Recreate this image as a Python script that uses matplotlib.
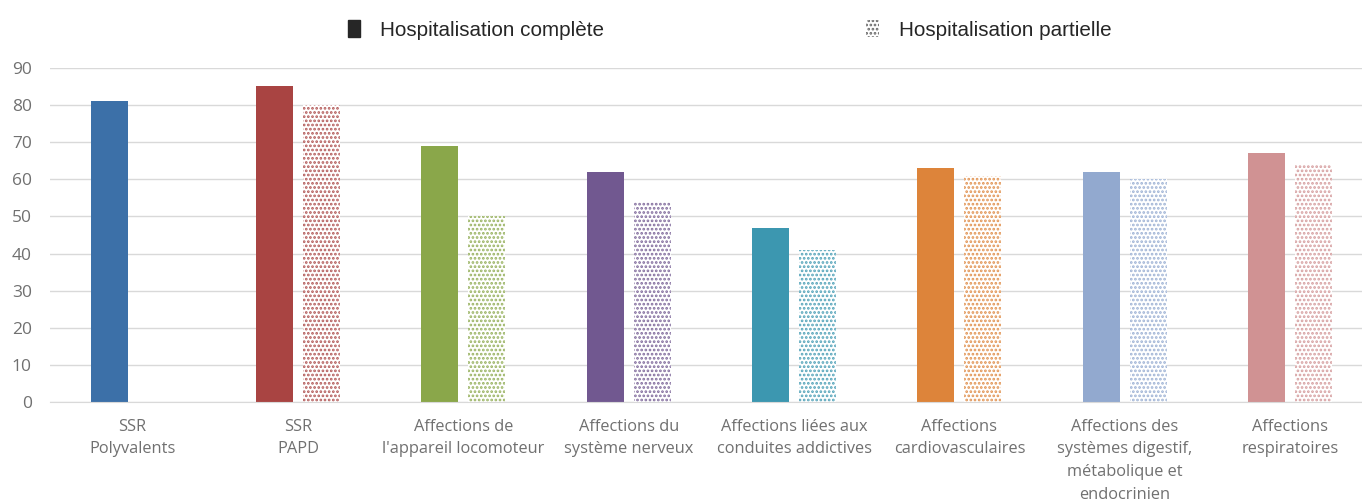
import numpy as np
import matplotlib
matplotlib.use('Agg')
from matplotlib import pyplot as plt
from matplotlib.patches import Patch
from matplotlib.colors import to_rgb

categories = ["SSR\nPolyvalents", "SSR\nPAPD", "Affections de\nl'appareil locomoteur",
              "Affections du\nsystème nerveux", "Affections liées aux\nconduites addictives",
              "Affections\ncardiovasculaires",
              "Affections des\nsystèmes digestif,\nmétabolique et\nendocrinien",
              "Affections\nrespiratoires"]
complete = [81, 85, 69, 62, 47, 63, 62, 67]
partielle = [0, 80, 50, 54, 41, 61, 60, 64]
colors = ['#3C70A8', '#A94442', '#8AA74A', '#715890', '#3C97B0', '#DD843A', '#92A9CF', '#D09293']
yticks = [0, 10, 20, 30, 40, 50, 60, 70, 80, 90]

def lighten(c, f):
    r, g, b = to_rgb(c)
    return (r + (1 - r) * f, g + (1 - g) * f, b + (1 - b) * f)

plt.rcParams['hatch.linewidth'] = 1.3

fig = plt.figure(figsize=(13.62, 4.99), dpi=100)
ax = fig.add_axes([0.0366, 0.194, 0.9714, 0.67])

x = np.arange(len(categories))
w = 0.224
off = 0.142
ax.bar(x - off, complete, width=w, color=colors, zorder=3)
for xi, v, c in zip(x, partielle, colors):
    if v > 0:
        ax.bar(xi + off, v, width=w, facecolor='white', edgecolor=lighten(c, 0.12),
               hatch='....', linewidth=0, zorder=3)

ax.set_xlim(-0.5, len(categories) - 0.5)
ax.set_ylim(0, 90)
ax.set_yticks(yticks)
ax.set_xticks(x)
ax.set_xticklabels(categories, fontsize=11.8, color='#707070', family='Open Sans',
                   linespacing=1.55)
for lab in ax.get_yticklabels():
    lab.set_fontsize(12.5)
    lab.set_color('#707070')
    lab.set_family('Open Sans')
ax.tick_params(axis='y', length=0, pad=13)
ax.tick_params(axis='x', length=0, pad=12)
ax.yaxis.grid(True, color='#D9D9D9', linewidth=1, zorder=0)
for s in ['top', 'right', 'left']:
    ax.spines[s].set_visible(False)
ax.spines['bottom'].set_color('#D9D9D9')
ax.spines['bottom'].set_zorder(4)

handles = [Patch(facecolor='#262626', edgecolor='#262626', label='Hospitalisation complète'),
           Patch(facecolor='white', edgecolor='#666666', hatch='....', linewidth=0,
                 label='Hospitalisation partielle')]
leg = fig.legend(handles=handles, loc='upper center', bbox_to_anchor=(0.5355, 0.997), ncol=2,
                 frameon=False, handlelength=0.6, handleheight=0.9,
                 columnspacing=12.7, handletextpad=0.95,
                 prop={'family': 'Liberation Sans', 'size': 14.9})
for t in leg.get_texts():
    t.set_color('#262626')

fig.savefig('out.png', dpi=100)
